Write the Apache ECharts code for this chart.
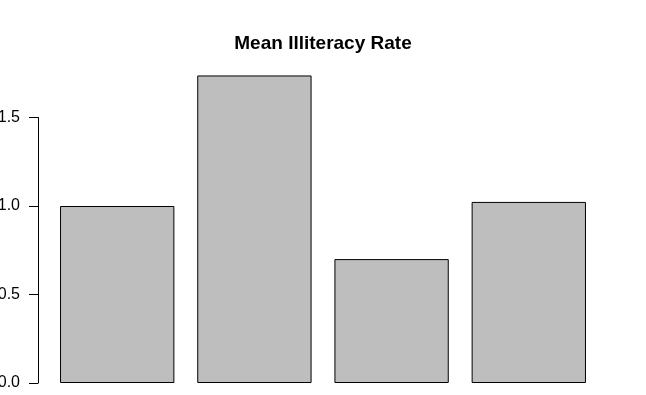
<!DOCTYPE html>
<html>
<head>
<meta charset="utf-8">
<script src="https://cdn.jsdelivr.net/npm/echarts@6/dist/echarts.min.js"></script>
<style>html,body{margin:0;padding:0;background:#fff}#c{width:646px;height:395px}</style>
</head>
<body>
<div id="c"></div>
<script>
const categories = ["Northeast", "South", "North Central", "West"];
const meanIlliteracy = [1.0, 1.7375, 0.7, 1.0231];
const yTicks = [0, 0.5, 1.0, 1.5];

const chart = echarts.init(document.getElementById('c'), null, {renderer: 'canvas'});
chart.setOption({
  animation: false,
  backgroundColor: '#ffffff',
  title: {
    text: 'Mean Illiteracy Rate',
    left: 'center',
    top: 29,
    textStyle: {fontFamily: 'Liberation Sans, Arial', fontWeight: 'bold', fontSize: 19, color: '#000'}
  },
  grid: [
    {left: 48.6, right: 48.6, bottom: 12, top: 29, containLabel: false, outerBoundsMode: 'none'},
    {left: 38, right: 48.6, bottom: 12, top: 117.5, containLabel: false, outerBoundsMode: 'none'}
  ],
  xAxis: [
    {type: 'category', gridIndex: 0, data: categories, boundaryGap: true,
     axisLine: {show: false}, axisTick: {show: false}, axisLabel: {show: false}, splitLine: {show: false}},
    {type: 'value', gridIndex: 1, show: false}
  ],
  yAxis: [
    {type: 'value', gridIndex: 0, min: 0, max: 2, show: false, splitLine: {show: false}},
    {type: 'value', gridIndex: 1, min: yTicks[0], max: yTicks[yTicks.length - 1], interval: 0.5,
     axisLine: {show: true, lineStyle: {color: '#000', width: 1}},
     axisTick: {show: true, length: 9, lineStyle: {color: '#000', width: 1}},
     axisLabel: {show: true, margin: 18, color: '#000', fontFamily: 'Liberation Sans, Arial', fontSize: 16,
                 formatter: v => v.toFixed(1)},
     splitLine: {show: false}}
  ],
  series: [
    {type: 'bar', xAxisIndex: 0, yAxisIndex: 0, data: meanIlliteracy, barCategoryGap: '16.67%',
     itemStyle: {color: '#bebebe', borderColor: '#000', borderWidth: 1}}
  ]
});
</script>
</body>
</html>
